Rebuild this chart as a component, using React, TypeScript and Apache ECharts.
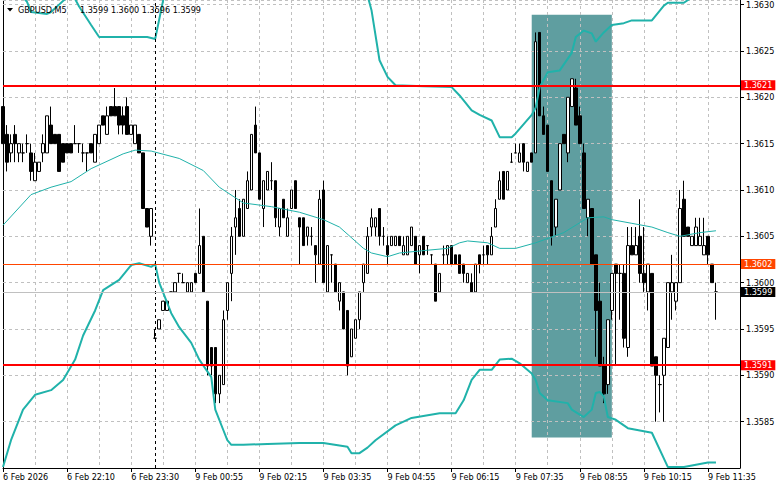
import React, { useEffect, useRef } from "react";
import * as echarts from "echarts";

// ---- data ----
const openP = [
  1.3619, 1.3616, 1.3614, 1.3616, 1.3614, 1.3614, 1.3615, 1.3614, 1.3611, 1.3612,
  1.3614, 1.3614, 1.3617, 1.3616, 1.3616, 1.3615, 1.3615, 1.3615, 1.3615, 1.3615,
  1.3614, 1.3614, 1.3615, 1.3613, 1.3615, 1.3618, 1.3616, 1.3619, 1.3619, 1.3619,
  1.3618, 1.3619, 1.3616, 1.3615, 1.3616, 1.3614, 1.3608, 1.3605, 1.3594, 1.3595,
  1.3597, 1.3597, 1.3599, 1.3599, 1.3601, 1.3600, 1.3599, 1.3599, 1.3601, 1.3601,
  1.3605, 1.3598, 1.3593, 1.3593, 1.3588, 1.3589, 1.3597, 1.3601, 1.3606, 1.3608,
  1.3605, 1.3608, 1.3610, 1.3617, 1.3614, 1.3608, 1.3610, 1.3611, 1.3611, 1.3606,
  1.3609, 1.3605, 1.3608, 1.3611, 1.3607, 1.3607, 1.3605, 1.3605, 1.3604, 1.3602,
  1.3610, 1.3599, 1.3603, 1.3602, 1.3598, 1.3599, 1.3597, 1.3592, 1.3594, 1.3596,
  1.3600, 1.3601, 1.3606, 1.3606, 1.3608, 1.3605, 1.3604, 1.3604, 1.3604, 1.3605,
  1.3603, 1.3603, 1.3604, 1.3605, 1.3603, 1.3605, 1.3604, 1.3603, 1.3602, 1.3599,
  1.3603, 1.3603, 1.3604, 1.3603, 1.3603, 1.3602, 1.3600, 1.3600, 1.3599, 1.3603,
  1.3603, 1.3604, 1.3603, 1.3606, 1.3609, 1.3612, 1.3610, 1.3613, 1.3614, 1.3613,
  1.3615, 1.3612, 1.3614, 1.3614, 1.3627, 1.3618, 1.3617, 1.3611, 1.3606, 1.3610,
  1.3616, 1.3614, 1.3619, 1.3621, 1.3618, 1.3614, 1.3607, 1.3608, 1.3603, 1.3598,
  1.3591, 1.3589, 1.3597, 1.3602, 1.3601, 1.3601, 1.3593, 1.3604, 1.3603, 1.3605,
  1.3601, 1.3599, 1.3601, 1.3592, 1.3589, 1.3590, 1.3593, 1.3599, 1.3598, 1.3600,
  1.3609, 1.3606, 1.3604, 1.3604, 1.3604, 1.3603, 1.3605, 1.3602, 1.3599,
];
const highP = [
  1.3619, 1.3617, 1.3616, 1.3617, 1.3615, 1.3615, 1.3616, 1.3615, 1.3614, 1.3613,
  1.3616, 1.3618, 1.3619, 1.3616, 1.3616, 1.3615, 1.3615, 1.3615, 1.3617, 1.3615,
  1.3615, 1.3614, 1.3615, 1.3616, 1.3617, 1.3618, 1.3619, 1.3619, 1.3621, 1.3619,
  1.3619, 1.3620, 1.3617, 1.3617, 1.3616, 1.3614, 1.3608, 1.3608, 1.3595, 1.3596,
  1.3598, 1.3598, 1.3599, 1.3600, 1.3601, 1.3601, 1.3600, 1.3600, 1.3601, 1.3608,
  1.3605, 1.3598, 1.3593, 1.3593, 1.3590, 1.3597, 1.3600, 1.3606, 1.3610, 1.3609,
  1.3609, 1.3612, 1.3616, 1.3619, 1.3614, 1.3611, 1.3612, 1.3613, 1.3611, 1.3608,
  1.3609, 1.3608, 1.3610, 1.3611, 1.3607, 1.3607, 1.3606, 1.3606, 1.3604, 1.3610,
  1.3611, 1.3604, 1.3603, 1.3602, 1.3600, 1.3599, 1.3597, 1.3595, 1.3596, 1.3599,
  1.3602, 1.3606, 1.3608, 1.3607, 1.3608, 1.3606, 1.3605, 1.3605, 1.3605, 1.3605,
  1.3605, 1.3605, 1.3606, 1.3605, 1.3604, 1.3605, 1.3604, 1.3603, 1.3602, 1.3601,
  1.3604, 1.3604, 1.3604, 1.3603, 1.3603, 1.3602, 1.3601, 1.3601, 1.3602, 1.3603,
  1.3604, 1.3604, 1.3606, 1.3609, 1.3612, 1.3612, 1.3612, 1.3614, 1.3615, 1.3615,
  1.3615, 1.3613, 1.3614, 1.3627, 1.3627, 1.3619, 1.3617, 1.3611, 1.3609, 1.3615,
  1.3616, 1.3620, 1.3622, 1.3622, 1.3619, 1.3615, 1.3609, 1.3608, 1.3603, 1.3600,
  1.3592, 1.3596, 1.3601, 1.3602, 1.3602, 1.3602, 1.3606, 1.3606, 1.3606, 1.3609,
  1.3606, 1.3602, 1.3601, 1.3592, 1.3590, 1.3594, 1.3600, 1.3603, 1.3600, 1.3610,
  1.3611, 1.3606, 1.3605, 1.3607, 1.3607, 1.3607, 1.3605, 1.3602, 1.3600,
];
const lowP = [
  1.3615, 1.3612, 1.3613, 1.3613, 1.3613, 1.3613, 1.3614, 1.3611, 1.3611, 1.3612,
  1.3613, 1.3614, 1.3615, 1.3615, 1.3612, 1.3613, 1.3614, 1.3614, 1.3615, 1.3614,
  1.3613, 1.3612, 1.3614, 1.3613, 1.3615, 1.3617, 1.3616, 1.3618, 1.3618, 1.3616,
  1.3616, 1.3616, 1.3616, 1.3615, 1.3614, 1.3608, 1.3606, 1.3604, 1.3594, 1.3595,
  1.3597, 1.3597, 1.3599, 1.3599, 1.3600, 1.3600, 1.3599, 1.3599, 1.3600, 1.3601,
  1.3599, 1.3590, 1.3590, 1.3587, 1.3587, 1.3589, 1.3596, 1.3598, 1.3603, 1.3605,
  1.3605, 1.3608, 1.3610, 1.3614, 1.3609, 1.3606, 1.3610, 1.3610, 1.3606, 1.3605,
  1.3607, 1.3605, 1.3608, 1.3608, 1.3602, 1.3604, 1.3604, 1.3604, 1.3600, 1.3602,
  1.3600, 1.3599, 1.3600, 1.3599, 1.3597, 1.3595, 1.3590, 1.3592, 1.3594, 1.3595,
  1.3599, 1.3601, 1.3605, 1.3605, 1.3604, 1.3604, 1.3602, 1.3604, 1.3604, 1.3604,
  1.3603, 1.3603, 1.3604, 1.3602, 1.3601, 1.3603, 1.3603, 1.3602, 1.3598, 1.3599,
  1.3602, 1.3602, 1.3602, 1.3602, 1.3601, 1.3600, 1.3600, 1.3599, 1.3599, 1.3601,
  1.3602, 1.3602, 1.3603, 1.3606, 1.3609, 1.3609, 1.3610, 1.3613, 1.3614, 1.3613,
  1.3612, 1.3612, 1.3613, 1.3614, 1.3618, 1.3616, 1.3612, 1.3604, 1.3605, 1.3610,
  1.3615, 1.3613, 1.3619, 1.3617, 1.3615, 1.3608, 1.3605, 1.3602, 1.3592, 1.3591,
  1.3587, 1.3588, 1.3596, 1.3591, 1.3596, 1.3593, 1.3592, 1.3603, 1.3603, 1.3600,
  1.3599, 1.3597, 1.3591, 1.3585, 1.3586, 1.3585, 1.3593, 1.3596, 1.3597, 1.3600,
  1.3605, 1.3605, 1.3604, 1.3604, 1.3604, 1.3603, 1.3602, 1.3600, 1.3596,
];
const closeP = [
  1.3615, 1.3613, 1.3615, 1.3615, 1.3615, 1.3614, 1.3615, 1.3612, 1.3613, 1.3613,
  1.3615, 1.3618, 1.3615, 1.3615, 1.3612, 1.3613, 1.3614, 1.3614, 1.3615, 1.3615,
  1.3614, 1.3614, 1.3614, 1.3616, 1.3617, 1.3617, 1.3618, 1.3618, 1.3618, 1.3617,
  1.3617, 1.3616, 1.3617, 1.3617, 1.3614, 1.3608, 1.3606, 1.3608, 1.3594, 1.3596,
  1.3598, 1.3598, 1.3599, 1.3600, 1.3601, 1.3600, 1.3600, 1.3600, 1.3600, 1.3604,
  1.3599, 1.3591, 1.3591, 1.3588, 1.3590, 1.3596, 1.3600, 1.3605, 1.3607, 1.3605,
  1.3609, 1.3611, 1.3616, 1.3614, 1.3609, 1.3611, 1.3612, 1.3611, 1.3607, 1.3608,
  1.3607, 1.3607, 1.3610, 1.3608, 1.3606, 1.3604, 1.3606, 1.3605, 1.3603, 1.3609,
  1.3600, 1.3604, 1.3603, 1.3599, 1.3600, 1.3595, 1.3591, 1.3595, 1.3596, 1.3599,
  1.3602, 1.3605, 1.3607, 1.3607, 1.3605, 1.3605, 1.3603, 1.3605, 1.3605, 1.3604,
  1.3604, 1.3605, 1.3606, 1.3602, 1.3604, 1.3603, 1.3604, 1.3603, 1.3598, 1.3601,
  1.3603, 1.3604, 1.3602, 1.3602, 1.3601, 1.3601, 1.3601, 1.3599, 1.3602, 1.3602,
  1.3603, 1.3603, 1.3605, 1.3608, 1.3611, 1.3609, 1.3612, 1.3613, 1.3614, 1.3614,
  1.3613, 1.3613, 1.3613, 1.3626, 1.3618, 1.3616, 1.3612, 1.3605, 1.3609, 1.3615,
  1.3615, 1.3620, 1.3622, 1.3617, 1.3615, 1.3608, 1.3609, 1.3602, 1.3597, 1.3591,
  1.3588, 1.3596, 1.3601, 1.3601, 1.3601, 1.3594, 1.3604, 1.3603, 1.3604, 1.3601,
  1.3600, 1.3602, 1.3591, 1.3590, 1.3589, 1.3594, 1.3600, 1.3600, 1.3600, 1.3608,
  1.3605, 1.3605, 1.3605, 1.3606, 1.3605, 1.3604, 1.3603, 1.3600, 1.3599,
];

// Bollinger bands, [bar index, price] vertices
const upperBand: [number, number][] = [
  [0, 1.36335], [3, 1.36318], [6, 1.36303], [7, 1.36292], [11, 1.3629], [12, 1.36292],
  [14, 1.363], [16, 1.36308], [17, 1.36312], [18, 1.36306], [19, 1.36298], [22, 1.36278],
  [24, 1.36265], [30, 1.36265], [36, 1.36265], [38, 1.36263], [40, 1.36305], [42, 1.3634],
  [50, 1.3638], [70, 1.3637], [88, 1.3635], [91, 1.3631], [92, 1.36294], [94, 1.3624],
  [96, 1.36222], [98, 1.36213], [105, 1.36212], [112, 1.36211], [114, 1.36202], [117, 1.36186],
  [119, 1.36181], [122, 1.36175], [124, 1.36157], [127, 1.36157], [128, 1.36161], [132, 1.36181],
  [133, 1.36189], [134, 1.36211], [136, 1.36227], [139, 1.36229], [142, 1.36248], [143, 1.36265],
  [145, 1.36272], [147, 1.36269], [148, 1.3626], [150, 1.3627], [152, 1.36278], [155, 1.3628],
  [157, 1.36283], [162, 1.36283], [165, 1.36299], [166, 1.36302], [170, 1.36302], [172, 1.36308],
  [178, 1.36318],
];
const middleBand: [number, number][] = [
  [0, 1.36062], [7, 1.36095], [12, 1.36103], [17, 1.36109], [22, 1.36123], [24, 1.36127],
  [30, 1.36139], [33, 1.36143], [37, 1.36142], [44, 1.36134], [50, 1.36121], [54, 1.36103],
  [60, 1.36086], [67, 1.36082], [74, 1.36076], [80, 1.36068], [84, 1.3606], [90, 1.36037],
  [92, 1.36032], [96, 1.36028], [99, 1.36032], [106, 1.36035], [111, 1.36037], [114, 1.36043],
  [116, 1.36045], [121, 1.36043], [124, 1.36037], [128, 1.36037], [133, 1.36043], [140, 1.36054],
  [146, 1.3607], [150, 1.36071], [152, 1.36068], [157, 1.36064], [162, 1.3606], [166, 1.36054],
  [169, 1.3605], [174, 1.36054], [178, 1.36056],
];
const lowerBand: [number, number][] = [
  [0, 1.35801], [2, 1.3583], [5, 1.35863], [8, 1.35879], [12, 1.35884], [15, 1.35895],
  [18, 1.35917], [20, 1.35943], [23, 1.3597], [25, 1.35992], [29, 1.36003], [32, 1.36019],
  [34, 1.36021], [37, 1.36017], [38, 1.3602], [39, 1.36], [42, 1.35967], [44, 1.35952],
  [47, 1.35935], [49, 1.35917], [52, 1.35898], [53, 1.35863], [55, 1.35841], [56, 1.3583],
  [57, 1.35825], [60, 1.35825], [66, 1.35826], [74, 1.35827], [80, 1.35827], [86, 1.35823],
  [87, 1.35816], [89, 1.35816], [91, 1.35822], [93, 1.3583], [98, 1.35846], [102, 1.35854],
  [109, 1.35859], [113, 1.35859], [115, 1.35873], [117, 1.35895], [119, 1.35906], [122, 1.35906],
  [124, 1.35917], [127, 1.35918], [129, 1.35913], [132, 1.35902], [133, 1.35895], [134, 1.35881],
  [136, 1.35873], [141, 1.3587], [142, 1.35863], [145, 1.35855], [147, 1.35863], [148, 1.35881],
  [149, 1.35882], [150, 1.35877], [151, 1.35855], [153, 1.35852], [156, 1.35843], [162, 1.35838],
  [166, 1.35801], [170, 1.35801], [176, 1.35806], [178, 1.35806],
];

const xTickLabels = [
  "6 Feb 2026", "6 Feb 22:10", "6 Feb 23:30", "9 Feb 00:55", "9 Feb 02:15", "9 Feb 03:35",
  "9 Feb 04:55", "9 Feb 06:15", "9 Feb 07:35", "9 Feb 08:55", "9 Feb 10:15", "9 Feb 11:35",
];
const LABEL_EVERY = 16;
const GRID_EVERY = 8;
const TOTAL_SLOTS = 185; // bars + empty chart shift on the right

// horizontal line objects (exact prices as drawn; labels show 4 decimals)
const resistanceLevel = 1.36213;
const supportLevel = 1.35911;
const markLevel = 1.3602;
const bidLevel = 1.3599;
const separatorBar = 38;
const zoneStartBar = 132;
const zoneEndBar = 152;
const zoneTop = 1.36289;
const zoneBottom = 1.35833;

const headerSymbol = "GBPUSD,M5";
const headerOHLC = "1.3599 1.3600 1.3596 1.3599";

const Y_MIN = 1.358;
const Y_MAX = 1.36305;
const Y_STEP = 0.0005;

const FONT = "'DejaVu Sans Condensed', 'Liberation Sans', Arial, sans-serif";

export default function App() {
  const ref = useRef<HTMLDivElement>(null);

  useEffect(() => {
    document.body.style.margin = "0";
    if (!ref.current) return;
    const chart = echarts.init(ref.current, undefined, { renderer: "svg" });

    const categories = Array.from({ length: TOTAL_SLOTS }, (_, i) => String(i));
    const candles = openP.map((o, i) => [o, closeP[i], lowP[i], highP[i]]);

    const boxLabel = (bg: string, text: string) => ({
      show: true,
      position: "end",
      formatter: text,
      color: "#fff",
      backgroundColor: bg,
      padding: [1, 3, 0, 3],
      lineHeight: 9,
      fontSize: 9,
      fontFamily: FONT,
      distance: 1,
    });

    const option: any = {
      animation: false,
      backgroundColor: "#fff",
      grid: { left: 3, right: 41, top: 0, bottom: 21, containLabel: false },
      xAxis: {
        type: "category",
        data: categories,
        boundaryGap: false,
        z: 1.5,
        axisLine: { show: true, lineStyle: { color: "#000", width: 1 } },
        axisTick: {
          show: true,
          length: 4,
          interval: (i: number) => i % LABEL_EVERY === 0,
          lineStyle: { color: "#000" },
        },
        axisLabel: {
          interval: (i: number) => i % LABEL_EVERY === 0 && i / LABEL_EVERY < xTickLabels.length,
          formatter: (_v: string, i: number) => xTickLabels[i / LABEL_EVERY] ?? "",
          align: "left",
          margin: 4,
          color: "#000",
          fontSize: 9,
          fontFamily: FONT,
        },
        splitLine: {
          show: true,
          interval: (i: number) => i % GRID_EVERY === 0 && i > 0,
          lineStyle: { color: "#c0c0c0", type: [3, 3], width: 1 },
        },
      },
      yAxis: [
        {
          type: "value",
          position: "right",
          min: Y_MIN,
          max: Y_MAX,
          interval: Y_STEP,
          z: 1.5,
          axisLine: { show: true, lineStyle: { color: "#000", width: 1 } },
          axisTick: { show: true, length: 4, lineStyle: { color: "#000" } },
          axisLabel: {
            formatter: (v: number) => v.toFixed(4),
            showMinLabel: false,
            showMaxLabel: false,
            margin: 6,
            color: "#000",
            fontSize: 9,
            fontFamily: FONT,
          },
          splitLine: { show: true, lineStyle: { color: "#c0c0c0", type: [3, 3], width: 1 } },
        },
        {
          type: "value",
          position: "left",
          min: Y_MIN,
          max: Y_MAX,
          interval: Y_STEP,
          axisLine: { show: true, lineStyle: { color: "#000", width: 1 } },
          axisTick: { show: false },
          axisLabel: { show: false },
          splitLine: { show: false },
        },
      ],
      series: [
        {
          name: "zone",
          type: "line",
          data: [],
          z: 1,
          silent: true,
          markArea: {
            silent: true,
            itemStyle: { color: "#5f9ea0" },
            data: [[
              { xAxis: zoneStartBar, yAxis: zoneTop },
              { xAxis: zoneEndBar, yAxis: zoneBottom },
            ]],
          },
        },
        {
          name: "GBPUSD",
          type: "candlestick",
          data: candles,
          z: 2,
          barWidth: 3,
          clip: true,
          itemStyle: {
            color: "#fff",
            color0: "#000",
            borderColor: "#000",
            borderColor0: "#000",
            borderColorDoji: "#000",
            borderWidth: 1,
          },
        },
        {
          name: "upper",
          type: "line",
          data: upperBand,
          z: 3,
          showSymbol: false,
          symbol: "none",
          clip: true,
          lineStyle: { color: "#20b2aa", width: 2 },
        },
        {
          name: "middle",
          type: "line",
          data: middleBand,
          z: 3,
          showSymbol: false,
          symbol: "none",
          clip: true,
          lineStyle: { color: "#20b2aa", width: 1 },
        },
        {
          name: "lower",
          type: "line",
          data: lowerBand,
          z: 3,
          showSymbol: false,
          symbol: "none",
          clip: true,
          lineStyle: { color: "#20b2aa", width: 2 },
        },
        {
          name: "levels",
          type: "line",
          data: [],
          z: 5,
          silent: true,
          markLine: {
            silent: true,
            precision: 5,
            symbol: ["none", "none"],
            animation: false,
            data: [
              {
                xAxis: separatorBar,
                lineStyle: { color: "#000", type: [3, 3], width: 1 },
                label: { show: false },
              },
              {
                yAxis: bidLevel,
                lineStyle: { color: "#c0c0c0", type: "solid", width: 1 },
                label: boxLabel("#000", bidLevel.toFixed(4)),
              },
              {
                yAxis: markLevel,
                lineStyle: { color: "#ff4500", type: "solid", width: 1 },
                label: boxLabel("#ff4500", markLevel.toFixed(4)),
              },
              {
                yAxis: resistanceLevel,
                lineStyle: { color: "#ff0000", type: "solid", width: 2 },
                label: boxLabel("#ff0000", resistanceLevel.toFixed(4)),
              },
              {
                yAxis: supportLevel,
                lineStyle: { color: "#ff0000", type: "solid", width: 2 },
                label: boxLabel("#ff0000", supportLevel.toFixed(4)),
              },
            ],
          },
        },
      ],
      graphic: [
        {
          type: "polygon",
          z: 100,
          shape: { points: [[7, 8], [13, 8], [10, 11.5]] },
          style: { fill: "#000" },
        },
        {
          type: "text",
          z: 100,
          x: 18,
          y: 5,
          style: { text: headerSymbol, fill: "#000", fontSize: 9, fontFamily: FONT },
        },
        {
          type: "text",
          z: 100,
          x: 80,
          y: 5,
          style: { text: headerOHLC, fill: "#000", fontSize: 9, fontFamily: FONT },
        },
      ],
    };

    chart.setOption(option);
    return () => chart.dispose();
  }, []);

  return <div ref={ref} style={{ width: 781, height: 489 }} />;
}
